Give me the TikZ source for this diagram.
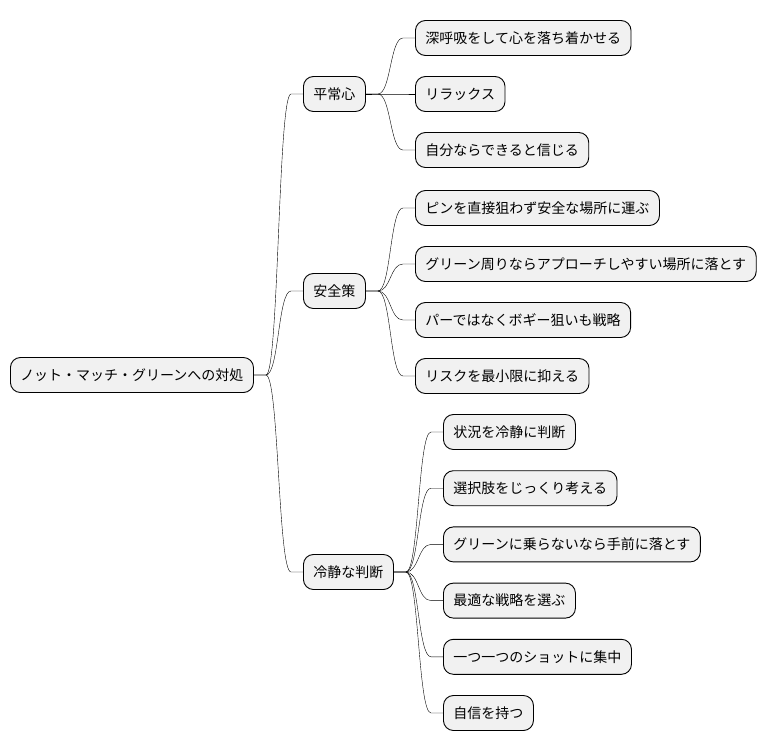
\documentclass[tikz,border=0pt]{standalone}
\usepackage{fontspec}
\usepackage{tikz}
\newfontfamily\jpfont{Noto Sans CJK JP}
\definecolor{boxgray}{rgb}{0.945,0.945,0.945}

\begin{document}
\begin{tikzpicture}[x=1pt,y=-1pt,font=\jpfont\fontsize{14}{17}\selectfont,
topic/.style={draw, fill=boxgray, line width=0.9pt, rounded corners=10pt, minimum height=35pt, inner xsep=10pt, inner ysep=0pt, anchor=west},
link/.style={line width=0.8pt, to path={-- ++(12pt,0) .. controls +(13pt,0) and +(-13pt,0) .. ([xshift=-12pt]\tikztotarget) -- (\tikztotarget)}}]
\useasboundingbox (0,0) rectangle (768,752);
% root and main branches
\node[topic] (root) at (10,375) {ノット・マッチ・グリーンへの対処};
\node[topic] (calm) at (303,94) {平常心};
\node[topic] (safe) at (303,291) {安全策};
\node[topic] (judge) at (303,572) {冷静な判断};
\foreach \b in {calm,safe,judge}
  \draw (root.east) to[link] (\b.west);
% leaves
\foreach \t [count=\i] in {深呼吸をして心を落ち着かせる, リラックス, 自分ならできると信じる}{
  \node[topic] (calm\i) at (415,{38+56*(\i-1)}) {\t};
  \draw (calm.east) to[link] (calm\i.west);
}
\foreach \t [count=\i] in {ピンを直接狙わず安全な場所に運ぶ, グリーン周りならアプローチしやすい場所に落とす, パーではなくボギー狙いも戦略, リスクを最小限に抑える}{
  \node[topic] (safe\i) at (415,{208+56*(\i-1)}) {\t};
  \draw (safe.east) to[link] (safe\i.west);
}
\foreach \t [count=\i] in {状況を冷静に判断, 選択肢をじっくり考える, グリーンに乗らないなら手前に落とす, 最適な戦略を選ぶ, 一つ一つのショットに集中, 自信を持つ}{
  \node[topic] (judge\i) at (443,{432+56.2*(\i-1)}) {\t};
  \draw (judge.east) to[link] (judge\i.west);
}
\end{tikzpicture}
\end{document}
